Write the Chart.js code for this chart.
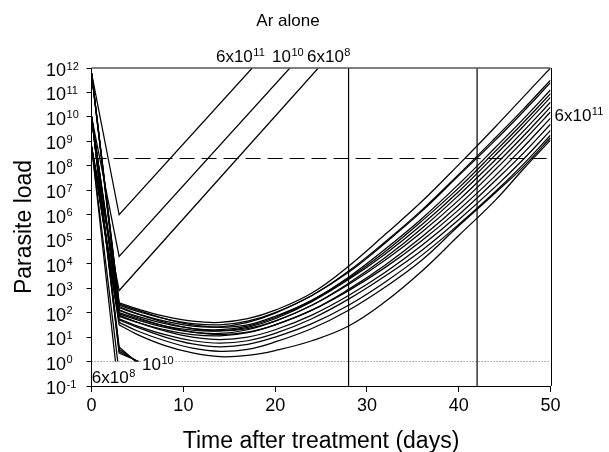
<!DOCTYPE html>
<html>
<head>
<meta charset="utf-8">
<script src="https://cdn.jsdelivr.net/npm/chart.js@4.4.1/dist/chart.umd.min.js"></script>
<style>
html,body{margin:0;padding:0;background:#fff;}
canvas{display:block;}
</style>
</head>
<body>
<canvas id="c" width="609" height="452"></canvas>
<script>
// ---------- data ----------
const xTicks = [0, 10, 20, 30, 40, 50];
const yTickExponents = [12, 11, 10, 9, 8, 7, 6, 5, 4, 3, 2, 1, 0, -1];

// days at which the sensitive-parasite curves are sampled (after the initial drop)
const curveDays = [3, 5, 8, 11, 14, 17, 20, 24, 28, 32, 36, 40, 44, 47, 50];

// log10(parasite load) for each curve at curveDays
const logLoad01 = [2.4, 2.15, 1.85, 1.65, 1.6, 1.75, 2.1, 2.8, 3.9, 5.2, 6.55, 8.05, 9.6, 10.8, 12.0];
const logLoad02 = [2.3, 2.05, 1.75, 1.55, 1.5, 1.65, 2.0, 2.7, 3.7, 4.9, 6.2, 7.65, 9.15, 10.3, 11.5];
const logLoad03 = [2.2, 1.95, 1.65, 1.45, 1.42, 1.6, 1.98, 2.7, 3.65, 4.85, 6.15, 7.6, 9.05, 10.2, 11.4];
const logLoad04 = [2.35, 2.1, 1.75, 1.5, 1.4, 1.5, 1.85, 2.5, 3.45, 4.6, 5.85, 7.25, 8.75, 9.9, 11.1];
const logLoad05 = [2.1, 1.85, 1.55, 1.35, 1.3, 1.45, 1.8, 2.5, 3.4, 4.5, 5.75, 7.1, 8.6, 9.75, 10.95];
const logLoad06 = [2.0, 1.75, 1.45, 1.28, 1.25, 1.4, 1.75, 2.45, 3.35, 4.4, 5.6, 6.95, 8.45, 9.6, 10.8];
const logLoad07 = [2.25, 1.95, 1.6, 1.35, 1.25, 1.35, 1.65, 2.3, 3.2, 4.25, 5.45, 6.8, 8.25, 9.4, 10.6];
const logLoad08 = [1.95, 1.7, 1.4, 1.2, 1.15, 1.3, 1.65, 2.3, 3.15, 4.15, 5.3, 6.6, 8.05, 9.2, 10.4];
const logLoad09 = [2.1, 1.8, 1.45, 1.2, 1.1, 1.2, 1.5, 2.1, 2.95, 3.95, 5.1, 6.4, 7.85, 9.0, 10.2];
const logLoad10 = [1.85, 1.6, 1.3, 1.1, 1.05, 1.18, 1.5, 2.1, 2.9, 3.85, 4.95, 6.2, 7.6, 8.75, 9.95];
const logLoad11 = [1.9, 1.6, 1.25, 1.0, 0.9, 1.0, 1.3, 1.9, 2.7, 3.65, 4.75, 6.0, 7.4, 8.5, 9.7];
const logLoad12 = [1.75, 1.45, 1.1, 0.85, 0.75, 0.85, 1.15, 1.75, 2.55, 3.5, 4.55, 5.8, 7.15, 8.25, 9.45];
const logLoad13 = [1.7, 1.4, 1.0, 0.72, 0.6, 0.7, 1.0, 1.55, 2.3, 3.25, 4.35, 5.6, 6.95, 8.05, 9.25];
const logLoad14 = [1.6, 1.25, 0.85, 0.55, 0.42, 0.5, 0.8, 1.35, 2.1, 3.05, 4.15, 5.55, 6.9, 7.95, 9.15];
const logLoad15 = [1.5, 1.1, 0.65, 0.35, 0.2, 0.25, 0.45, 0.85, 1.45, 2.45, 3.7, 5.15, 6.6, 7.85, 9.05];

// initial load (day 0) of each of those curves
const bundleInoculum = [6e11, 6e11, 6e11, 6e11, 6e11, 1e10, 1e10, 1e10, 1e10, 1e10, 6e8, 6e8, 6e8, 6e8, 6e8];

// resistant infections: day 0 load, day 3 load, day at which 10^12 is reached
const resistantInoculum = [6e11, 1e10, 6e8];
const resistantDay3 = [1e6, 2e4, 8e2];
const resistantDayAtTop = [17.5, 21.6, 24.7];
const topLoad = 1e12;

// cleared infections
const cleared6e8Start = 6e8;
const cleared6e8EndDays = [2.6, 2.85];
const cleared1e10Start = 1e10;
const cleared1e10Day3 = [3.98, 3.16, 2.63, 2.24];
const cleared1e10EndDays = [4.8, 4.95, 5.05, 5.15];

// reference lines
const treatmentLineDays = [28, 42];
const dashedThreshold = 2e8;
const dottedThreshold = 1;
const yMin = 0.1, yMax = 1e12, xMin = 0, xMax = 50;

// ---------- build datasets ----------
const FONT = "'Liberation Sans', Arial, Helvetica, sans-serif";
const logCurves = [logLoad01, logLoad02, logLoad03, logLoad04, logLoad05, logLoad06, logLoad07,
  logLoad08, logLoad09, logLoad10, logLoad11, logLoad12, logLoad13, logLoad14, logLoad15];

function ds(points, extra) {
  return Object.assign({
    data: points, borderColor: '#000', borderWidth: 1.25, pointRadius: 0,
    pointHoverRadius: 0, fill: false, tension: 0
  }, extra || {});
}
const datasets = [];

// reference lines
treatmentLineDays.forEach(d => datasets.push(ds([{x: d, y: yMin}, {x: d, y: yMax}], {borderWidth: 1.2})));
datasets.push(ds([{x: xMin, y: dashedThreshold}, {x: xMax, y: dashedThreshold}], {borderDash: [15, 7], borderWidth: 1.2}));
datasets.push(ds([{x: xMin, y: dottedThreshold}, {x: xMax, y: dottedThreshold}], {borderDash: [1, 2], borderColor: '#666', borderWidth: 1}));

// resistant V-shaped lines
resistantInoculum.forEach((v, i) => {
  datasets.push(ds([{x: 0, y: v}, {x: 3, y: resistantDay3[i]}, {x: resistantDayAtTop[i], y: topLoad}]));
});

// cleared infections
cleared6e8EndDays.forEach(d => datasets.push(ds([{x: 0, y: cleared6e8Start}, {x: d, y: dottedThreshold}])));
cleared1e10Day3.forEach((v, i) => {
  datasets.push(ds([{x: 0, y: cleared1e10Start}, {x: 3, y: v}, {x: cleared1e10EndDays[i], y: dottedThreshold}]));
});

// sensitive-parasite recrudescence curves
logCurves.forEach((c, i) => {
  datasets.push(ds([{x: 0, y: bundleInoculum[i]}, {x: curveDays[0], y: Math.pow(10, c[0])}]));
  datasets.push(ds(curveDays.map((d, j) => ({x: d, y: Math.pow(10, c[j])})),
    {cubicInterpolationMode: 'default', tension: 0.4}));
});

// ---------- text drawing helpers ----------
function drawPower(ctx, x, y, base, exp, baseSize, expSize, bg) {
  ctx.font = baseSize + 'px ' + FONT;
  const w = ctx.measureText(base).width;
  ctx.font = expSize + 'px ' + FONT;
  const we = ctx.measureText(exp).width;
  if (bg) {
    ctx.fillStyle = '#fff';
    ctx.fillRect(x - 1, y - baseSize * 0.95, w + we + 3, baseSize * 1.0);
  }
  ctx.fillStyle = '#000';
  ctx.textAlign = 'left';
  ctx.textBaseline = 'alphabetic';
  ctx.font = baseSize + 'px ' + FONT;
  ctx.fillText(base, x, y);
  ctx.font = expSize + 'px ' + FONT;
  ctx.fillText(exp, x + w + 0.5, y - 6.5);
}

const annotations = {
  id: 'annotations',
  afterDraw(chart) {
    const ctx = chart.ctx, a = chart.chartArea, xs = chart.scales.x, ys = chart.scales.y;
    ctx.save();
    // frame top and right
    ctx.strokeStyle = '#555'; ctx.lineWidth = 1.6;
    ctx.beginPath(); ctx.moveTo(a.left, a.top); ctx.lineTo(a.right, a.top); ctx.stroke();
    ctx.strokeStyle = '#000'; ctx.lineWidth = 1;
    ctx.beginPath(); ctx.moveTo(Math.round(a.right) + 0.5, a.top); ctx.lineTo(Math.round(a.right) + 0.5, a.bottom); ctx.stroke();

    // y tick labels
    yTickExponents.forEach(e => {
      const py = ys.getPixelForValue(Math.pow(10, e));
      drawPower(ctx, 46, py + 8, '10', String(e), 18, 11);
    });

    // title
    ctx.fillStyle = '#000';
    ctx.textAlign = 'center'; ctx.textBaseline = 'alphabetic';
    ctx.font = '17px ' + FONT;
    ctx.fillText('Ar alone', 288, 26);

    // axis titles
    ctx.font = '23px ' + FONT;
    ctx.fillText('Time after treatment (days)', (a.left + a.right) / 2, 448);
    ctx.save();
    ctx.translate(31, (a.top + a.bottom) / 2);
    ctx.rotate(-Math.PI / 2);
    ctx.fillText('Parasite load', 0, 0);
    ctx.restore();

    // inoculum labels
    const top = a.top - 6;
    drawPower(ctx, xs.getPixelForValue(13.55), top, '6x10', '11', 17, 11);
    drawPower(ctx, xs.getPixelForValue(19.66), top, '10', '10', 17, 11);
    drawPower(ctx, xs.getPixelForValue(23.47), top, '6x10', '8', 17, 11);
    drawPower(ctx, xs.getPixelForValue(50) + 4, ys.getPixelForValue(6.8e9), '6x10', '11', 17, 11);
    drawPower(ctx, xs.getPixelForValue(5.49), ys.getPixelForValue(0.45), '10', '10', 17, 11, true);
    drawPower(ctx, xs.getPixelForValue(0.02), ys.getPixelForValue(0.132), '6x10', '8', 17, 11);
    ctx.restore();
  }
};

new Chart(document.getElementById('c'), {
  type: 'line',
  data: {datasets},
  options: {
    responsive: false,
    animation: false,
    devicePixelRatio: 1,
    events: [],
    layout: {padding: {left: 0, top: 68, right: 58.5, bottom: 0}},
    plugins: {legend: {display: false}, tooltip: {enabled: false}, title: {display: false}},
    scales: {
      x: {
        type: 'linear', min: xMin, max: xMax,
        afterBuildTicks: s => { s.ticks = xTicks.map(v => ({value: v})); },
        ticks: {font: {family: FONT, size: 18}, color: '#000', padding: 3, maxRotation: 0, autoSkip: false},
        grid: {drawOnChartArea: false, drawTicks: true, tickLength: 6, color: '#000', lineWidth: 1},
        border: {display: true, color: '#000', width: 1},
        afterFit: s => { s.height = 66; }
      },
      y: {
        type: 'logarithmic', min: yMin, max: yMax,
        afterBuildTicks: s => { s.ticks = yTickExponents.map(e => ({value: Math.pow(10, e)})); },
        ticks: {display: false, autoSkip: false},
        grid: {drawOnChartArea: false, drawTicks: true, tickLength: 5, color: '#000', lineWidth: 1},
        border: {display: true, color: '#000', width: 1},
        afterFit: s => { s.width = 91.6; }
      }
    }
  },
  plugins: [annotations]
});
</script>
</body>
</html>
